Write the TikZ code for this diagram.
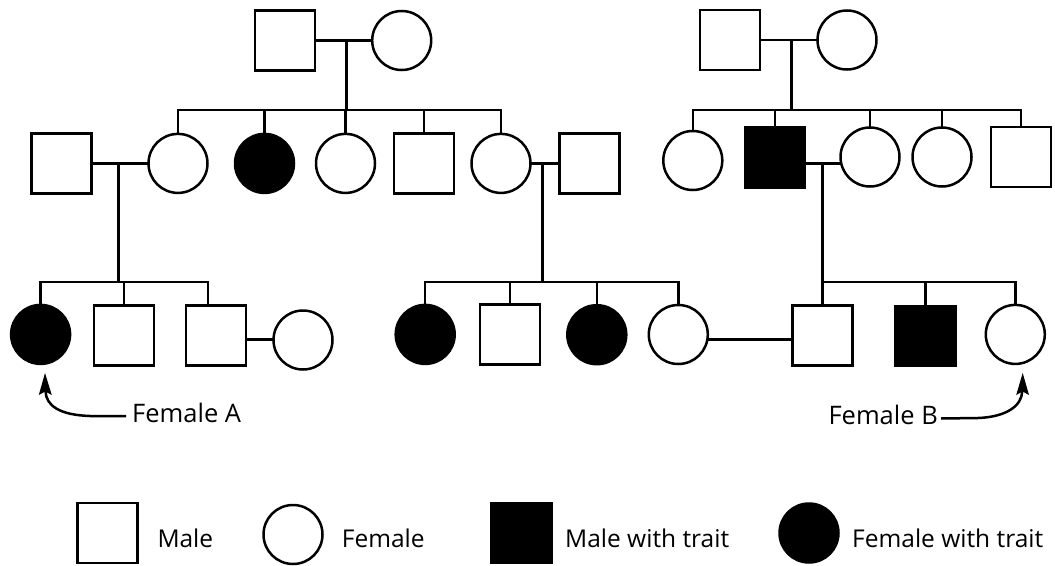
\documentclass[tikz,border=0pt]{standalone}
\usepackage{fontspec}
\setmainfont{Open Sans}
\tikzset{
  ln/.style={line width=2.5pt, line cap=rect},
  male/.style={draw, line width=2.5pt, rectangle, minimum size=60pt, inner sep=0pt},
  fem/.style={draw, line width=2.5pt, circle, minimum size=59pt, inner sep=0pt},
  aff/.style={fill=black},
  lab/.style={font=\fontsize{25.5}{30}\selectfont, inner sep=0pt, anchor=base west},
  leg/.style={font=\fontsize{24.5}{30}\selectfont, inner sep=0pt, anchor=base west},
  pointer/.style={line width=2.5pt},
  headtip/.style={fill=black, draw=none}
}
\begin{document}
\begin{tikzpicture}[x=1pt,y=-1pt]
\useasboundingbox (0,0) rectangle (1055,565);

% ---------- generation 1 ----------
\node[male] (g1m) at (285,40.5) {};
\node[fem]  (g1f) at (401.7,40.5) {};
\node[male] (h1m) at (730,40) {};
\node[fem]  (h1f) at (847,40) {};
\coordinate (mA) at (346.5,40.5);
\coordinate (sA) at (346.5,110);
\coordinate (mH) at (791.4,40);
\coordinate (sH) at (791.4,110);
\draw[ln] (g1m) -- (g1f);
\draw[ln] (mA) -- (sA);
\draw[ln] (h1m) -- (h1f);
\draw[ln] (mH) -- (sH);

% ---------- generation 2, left family ----------
\node[male]     (a1) at (61.7,163.4) {};
\node[fem]      (a2) at (178,163.4) {};
\node[fem,aff]  (a3) at (264.5,163.4) {};
\node[fem]      (a4) at (345.5,163.4) {};
\node[male]     (a5) at (424,163.4) {};
\node[fem]      (a6) at (501,163.4) {};
\node[male]     (a7) at (589.4,163.4) {};
\draw[ln] (a2.north |- sA) -- (a6.north |- sA);
\foreach \n in {a2,a3,a4,a5,a6} \draw[ln] (\n.north) -- (\n.north |- sA);

% ---------- generation 2, right family ----------
\node[fem]       (b1) at (692.8,160.5) {};
\node[male,aff]  (b2) at (775,157.5) {};
\node[fem]       (b3) at (870,157) {};
\node[fem]       (b4) at (942,157) {};
\node[male]      (b5) at (1021,157) {};
\draw[ln] (b1.north |- sH) -- (b5.north |- sH);
\foreach \n in {b1,b2,b3,b4,b5} \draw[ln] (\n.north) -- (\n.north |- sH);

% ---------- marriages, generation 2 ----------
\coordinate (mL) at (118.3,163.4);
\coordinate (mM) at (542.6,163.4);
\coordinate (mR) at (822.5,163.4);
\draw[ln] (a1) -- (a2);
\draw[ln] (a6) -- (a7);
\draw[ln] (b2.east |- mR) -- (b3.west |- mR);

\coordinate (tL) at (118.3,282);
\coordinate (tM) at (542.6,282);
\coordinate (tR) at (822.5,282);
\draw[ln] (mL) -- (tL);
\draw[ln] (mM) -- (tM);
\draw[ln] (mR) -- (tR);

% ---------- generation 3 ----------
\node[fem,aff]  (c1) at (40.6,334.4) {};
\node[male]     (c2) at (124,335.7) {};
\node[male]     (c3) at (215.8,335.7) {};
\node[fem]      (c4) at (303,340) {};
\coordinate (c3d) at (208,282);
\draw[ln] (c1.north |- tL) -- (c3d);
\draw[ln] (c1.north) -- (c1.north |- tL);
\draw[ln] (c2.north) -- (c2.north |- tL);
\draw[ln] (c3d) -- (c3d |- c3.north);
\draw[ln] (c3.east |- 0,339.4) -- (c4.west |- 0,339.4);

\node[fem,aff]  (d1) at (425.2,334.4) {};
\node[male]     (d2) at (510,334.7) {};
\node[fem,aff]  (d3) at (596.8,334.7) {};
\node[fem]      (d4) at (678.3,334.5) {};
\draw[ln] (d1.north |- tM) -- (d4.north |- tM);
\foreach \n in {d1,d2,d3,d4} \draw[ln] (\n.north) -- (\n.north |- tM);

\node[male]     (e1) at (822.5,335.7) {};
\node[male,aff] (e2) at (925.5,336) {};
\node[fem]      (e3) at (1015.3,334.4) {};
\draw[ln] (e1.north |- tR) -- (e3.north |- tR);
\foreach \n in {e1,e2,e3} \draw[ln] (\n.north) -- (\n.north |- tR);
\draw[ln] (d4.east |- 0,339.4) -- (e1.west |- 0,339.4);

% ---------- labels with pointers ----------
\node[lab] (labA) at (132,422) {Female A};
\node[lab, anchor=base east] (labB) at (938,424.5) {Female B};
\coordinate (tipA) at (45,373);
\coordinate (baseA) at (45.5,391);
\coordinate (tipB) at (1022.7,373);
\coordinate (baseB) at (1022.2,391);
\coordinate (bendA) at (90,416);
\coordinate (bendB) at (978,418);
\draw[pointer] ([xshift=-6pt,yshift=6pt]labA.base west) -- (bendA)
  .. controls (60,415) and (46,406) .. (baseA);
\draw[pointer] ([xshift=3pt,yshift=6pt]labB.base east) -- (bendB)
  .. controls (1006,417) and (1022,406) .. (baseB);
\fill[headtip] (tipA) -- (38.8,395) -- (45.3,391.5) -- (51.8,395) -- cycle;
\fill[headtip] (tipB) -- (1016.2,395) -- (1022.5,391.5) -- (1029,395) -- cycle;

% ---------- legend ----------
\node[male]     (lm)  at (107.5,533) {};
\node[leg]      (lmt) at (157.3,547) {Male};
\node[fem]      (lf)  at (293,534.5) {};
\node[leg]      (lft) at (341.7,547) {Female};
\node[male,aff] (lam) at (521.5,533) {};
\node[leg]      (lamt) at (565,547) {Male with trait};
\node[fem,aff]  (laf) at (809,533) {};
\node[leg]      (laft) at (852,547) {Female with trait};
\end{tikzpicture}
\end{document}
